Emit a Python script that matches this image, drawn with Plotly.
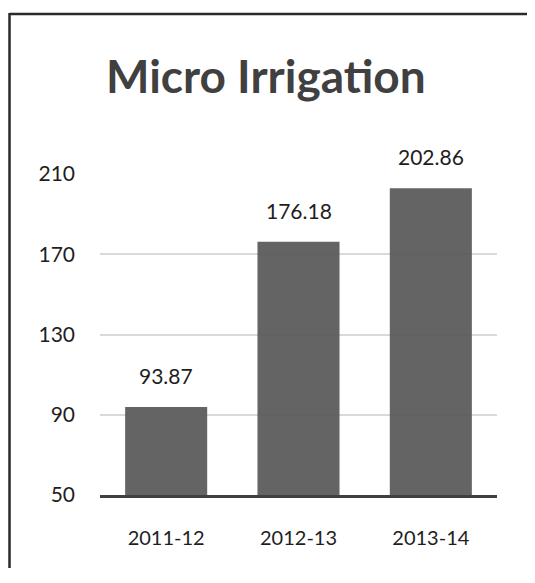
import plotly.graph_objects as go

categories = ["2011-12", "2012-13", "2013-14"]
values = [93.87, 176.18, 202.86]
value_labels = ["93.87", "176.18", "202.86"]
y_ticks = [50, 90, 130, 170, 210]

FONT = "Lato"
TXT = "#1e1e1e"

# page offset of the plot div (default body margin)
OFF = 8
W, H = 535 - OFF, 560
L, R, T, B = 100 - OFF, W - (497 - OFF), 174 - OFF, H - (495 - OFF)
PW, PH = 397, 321


def px_x(x):
    return (x - 100) / PW


def px_y(y):
    return (495 - y) / PH


fig = go.Figure()
fig.add_trace(go.Bar(
    x=categories, y=values,
    marker=dict(color="#5f5f5f", line=dict(width=0)),
    opacity=0.97,
    hoverinfo="skip",
))

for c, v, t in zip(categories, values, value_labels):
    fig.add_annotation(x=c, y=v, text=t, showarrow=False, yanchor="bottom",
                       yshift=17, font=dict(family=FONT, size=21, color=TXT))

fig.add_annotation(xref="paper", yref="paper", x=px_x(266), y=px_y(75),
                   text="<b>Micro Irrigation</b>", showarrow=False,
                   xanchor="center", yanchor="middle",
                   font=dict(family=FONT, size=46, color="#404040"))

# outer frame: top and left edges visible
frame = dict(color="#2a2a2a", width=2.5)
fig.add_shape(type="line", xref="paper", yref="paper",
              x0=px_x(OFF + 1.5), x1=px_x(560), y0=px_y(14), y1=px_y(14),
              line=frame, layer="above")
fig.add_shape(type="line", xref="paper", yref="paper",
              x0=px_x(OFF + 1.5), x1=px_x(OFF + 1.5), y0=px_y(13), y1=px_y(620),
              line=frame, layer="above")

fig.update_layout(
    width=W, height=H,
    margin=dict(l=L, r=R, t=T, b=B, pad=0, autoexpand=False),
    paper_bgcolor="white", plot_bgcolor="white",
    showlegend=False,
    bargap=0.38,
    font=dict(family=FONT, size=21, color=TXT),
    xaxis=dict(type="category", showgrid=False, showline=True, linecolor="#404040", linewidth=3,
               ticks="", tickfont=dict(family=FONT, size=20, color=TXT),
               ticklabelstandoff=23, fixedrange=True, automargin=False),
    yaxis=dict(range=[50, 210], tickvals=y_ticks, showgrid=True, gridcolor="#d9d9d9",
               gridwidth=1.5, zeroline=False, showline=False, ticks="",
               tickfont=dict(family=FONT, size=21, color=TXT),
               ticklabelstandoff=24, fixedrange=True, automargin=False),
)

fig.write_html("out.html")
